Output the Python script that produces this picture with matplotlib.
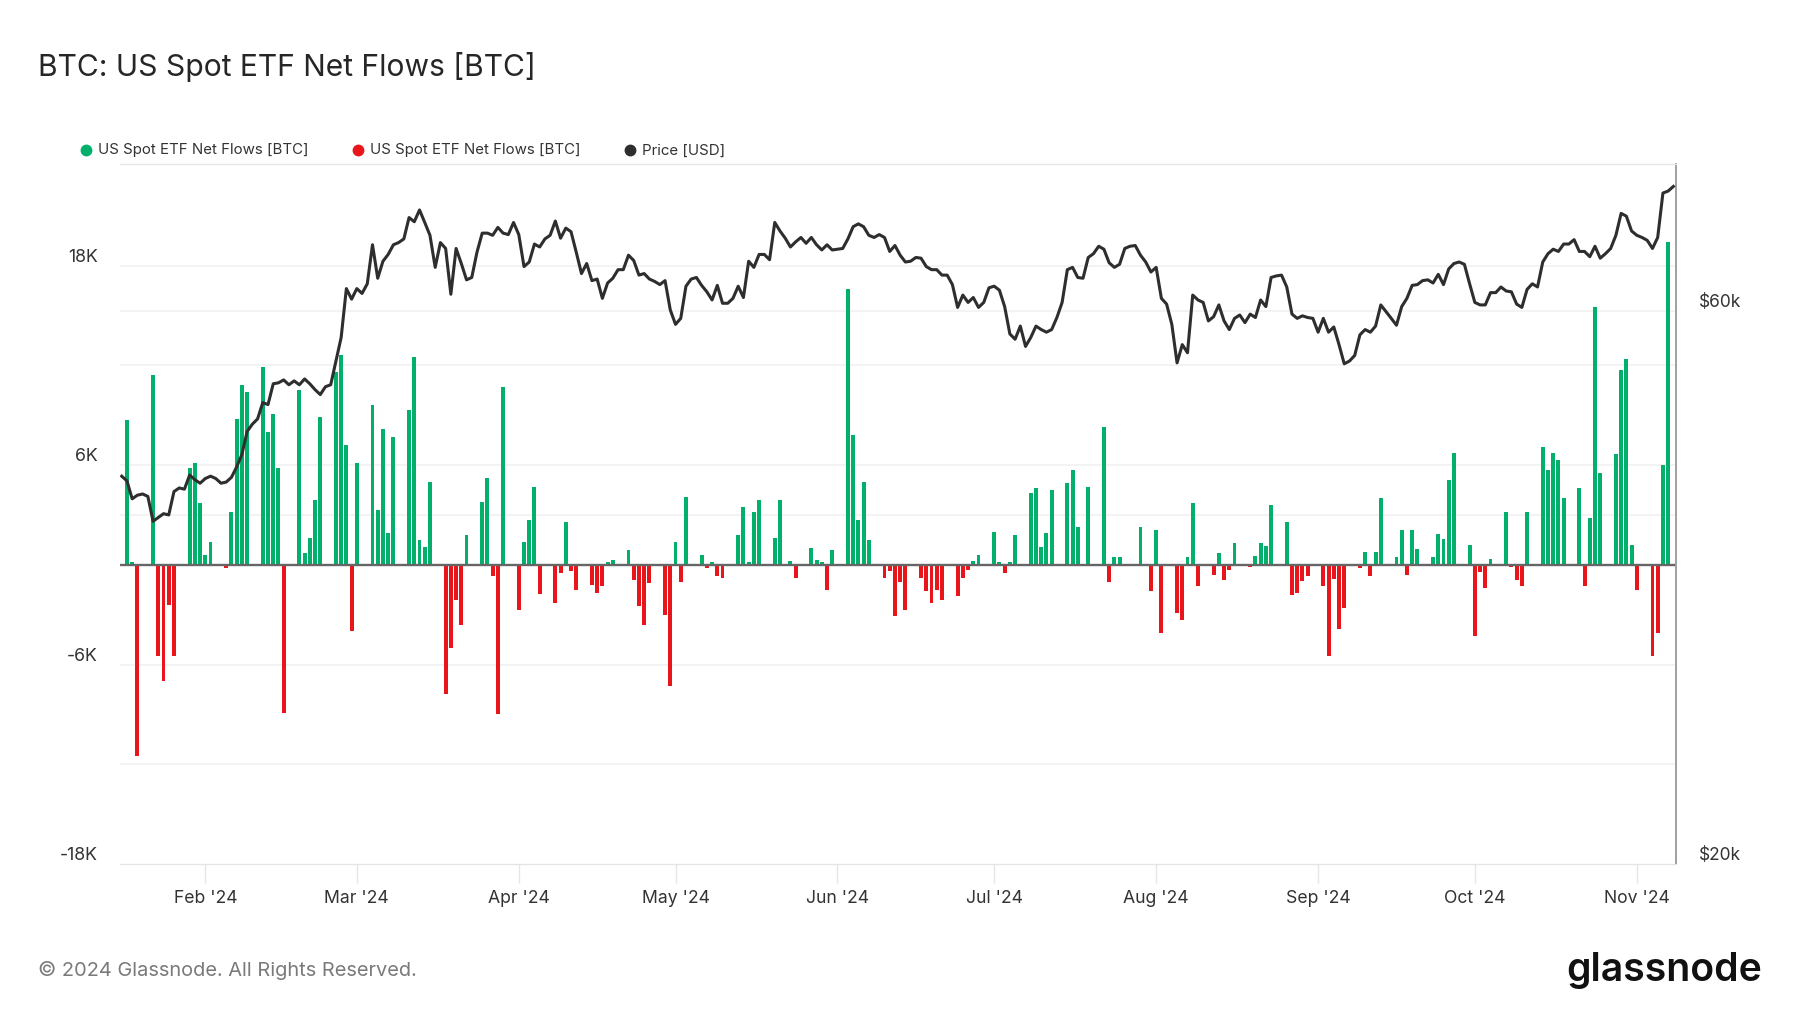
import matplotlib
matplotlib.use('Agg')
import matplotlib.pyplot as plt
import matplotlib.dates as mdates
import matplotlib.transforms as mtransforms
from matplotlib.lines import Line2D
import pandas as pd

plt.rcParams['font.family'] = ['Inter', 'DejaVu Sans']

# ---------------- data ----------------
flow_dates = [
    '2024-01-17', '2024-01-18', '2024-01-19', '2024-01-22', '2024-01-23', '2024-01-24', '2024-01-25', '2024-01-26',
    '2024-01-29', '2024-01-30', '2024-01-31', '2024-02-01', '2024-02-02',
    '2024-02-05', '2024-02-06', '2024-02-07', '2024-02-08', '2024-02-09',
    '2024-02-12', '2024-02-13', '2024-02-14', '2024-02-15', '2024-02-16',
    '2024-02-19', '2024-02-20', '2024-02-21', '2024-02-22', '2024-02-23',
    '2024-02-26', '2024-02-27', '2024-02-28', '2024-02-29', '2024-03-01',
    '2024-03-04', '2024-03-05', '2024-03-06', '2024-03-07', '2024-03-08',
    '2024-03-11', '2024-03-12', '2024-03-13', '2024-03-14', '2024-03-15',
    '2024-03-18', '2024-03-19', '2024-03-20', '2024-03-21', '2024-03-22',
    '2024-03-25', '2024-03-26', '2024-03-27', '2024-03-28', '2024-03-29',
    '2024-04-01', '2024-04-02', '2024-04-03', '2024-04-04', '2024-04-05',
    '2024-04-08', '2024-04-09', '2024-04-10', '2024-04-11', '2024-04-12',
    '2024-04-15', '2024-04-16', '2024-04-17', '2024-04-18', '2024-04-19',
    '2024-04-22', '2024-04-23', '2024-04-24', '2024-04-25', '2024-04-26',
    '2024-04-29', '2024-04-30', '2024-05-01', '2024-05-02', '2024-05-03',
    '2024-05-06', '2024-05-07', '2024-05-08', '2024-05-09', '2024-05-10',
    '2024-05-13', '2024-05-14', '2024-05-15', '2024-05-16', '2024-05-17',
    '2024-05-20', '2024-05-21', '2024-05-23', '2024-05-24',
    '2024-05-27', '2024-05-28', '2024-05-29', '2024-05-30', '2024-05-31',
    '2024-06-03', '2024-06-04', '2024-06-05', '2024-06-06', '2024-06-07',
    '2024-06-10', '2024-06-11', '2024-06-12', '2024-06-13', '2024-06-14',
    '2024-06-17', '2024-06-18', '2024-06-19', '2024-06-20', '2024-06-21',
    '2024-06-24', '2024-06-25', '2024-06-26', '2024-06-27', '2024-06-28',
    '2024-07-01', '2024-07-02', '2024-07-03', '2024-07-04', '2024-07-05',
    '2024-07-08', '2024-07-09', '2024-07-10', '2024-07-11', '2024-07-12',
    '2024-07-15', '2024-07-16', '2024-07-17', '2024-07-19',
    '2024-07-22', '2024-07-23', '2024-07-24', '2024-07-25', '2024-07-26',
    '2024-07-29', '2024-07-31', '2024-08-01', '2024-08-02',
    '2024-08-05', '2024-08-06', '2024-08-07', '2024-08-08', '2024-08-09',
    '2024-08-12', '2024-08-13', '2024-08-14', '2024-08-15', '2024-08-16',
    '2024-08-19', '2024-08-20', '2024-08-21', '2024-08-22', '2024-08-23',
    '2024-08-26', '2024-08-27', '2024-08-28', '2024-08-29', '2024-08-30',
    '2024-09-02', '2024-09-03', '2024-09-04', '2024-09-05', '2024-09-06',
    '2024-09-09', '2024-09-10', '2024-09-11', '2024-09-12', '2024-09-13',
    '2024-09-16', '2024-09-17', '2024-09-18', '2024-09-19', '2024-09-20',
    '2024-09-23', '2024-09-24', '2024-09-25', '2024-09-26', '2024-09-27',
    '2024-09-30', '2024-10-01', '2024-10-02', '2024-10-03', '2024-10-04',
    '2024-10-07', '2024-10-08', '2024-10-09', '2024-10-10', '2024-10-11',
    '2024-10-14', '2024-10-15', '2024-10-16', '2024-10-17', '2024-10-18',
    '2024-10-21', '2024-10-22', '2024-10-23', '2024-10-24', '2024-10-25',
    '2024-10-28', '2024-10-29', '2024-10-30', '2024-10-31', '2024-11-01',
    '2024-11-04', '2024-11-05', '2024-11-06', '2024-11-07',
]

flow_values = [
    8700, 150, -11500, 11400, -5500, -7000, -2400, -5500,
    5800, 6100, 3700, 600, 1400,
    -200, 3200, 8750, 10800, 10400,
    11900, 8000, 9100, 5800, -8900,
    10500, 700, 1600, 3900, 8900,
    11600, 12600, 7200, -4000, 6100,
    9600, 3300, 8200, 1900, 7700,
    9300, 12500, 1500, 1100, 5000,
    -7800, -5000, -2100, -3600, 1800,
    3800, 5200, -700, -9000, 10700,
    -2700, 1400, 2700, 4700, -1750,
    -2300, -500, 2600, -400, -1500,
    -1200, -1700, -1300, 200, 300,
    900, -900, -2500, -3600, -1100,
    -3000, -7300, 1400, -1050, 4100,
    600, -200, 200, -700, -800,
    1800, 3500, 150, 3200, 3900,
    1600, 3900, 260, -800,
    1000, 300, 150, -1500, 900,
    16600, 7800, 2700, 5000, 1500,
    -800, -400, -3100, -1050, -2700,
    -800, -1550, -2300, -1500, -2100,
    -1900, -800, -300, 260, 600,
    2000, 150, -500, 150, 1800,
    4300, 4600, 1100, 1900, 4500,
    4900, 5700, 2300, 4700,
    8300, -1050, 500, 500, 50,
    2300, -1600, 2100, -4100,
    -2900, -3300, 450, 3700, -1300,
    -600, 700, -900, -300, 1300,
    -100, 550, 1300, 1150, 3600,
    2600, -1800, -1700, -950, -650,
    -1300, -5500, -850, -3850, -2600,
    -200, 800, -650, 800, 4000,
    450, 2100, -600, 2100, 950,
    450, 1850, 1550, 5100, 6750,
    1200, -4300, -450, -1400, 350,
    3200, -100, -900, -1300, 3200,
    7100, 5700, 6750, 6300, 4000,
    4600, -1300, 2800, 15500, 5500,
    6700, 11700, 12400, 1200, -1500,
    -5500, -4100, 6000, 19400,
]

# daily BTC price (USD, thousands) from 2024-01-16 to 2024-11-08
price_start = '2024-01-16'
price_k = [
    # Jan 16-31
    43.2, 42.8, 41.3, 41.6, 41.7, 41.5, 39.5, 39.8, 40.1, 40.0, 41.9, 42.2, 42.1, 43.3, 42.9, 42.6,
    # Feb
    43.0, 43.2, 43.0, 42.6, 42.7, 43.1, 44.0, 45.1, 47.2, 47.9, 48.4, 50.0, 49.8, 51.9, 52.0,
    52.3, 51.8, 52.2, 51.8, 52.4, 51.9, 51.3, 50.8, 51.6, 51.8, 54.3, 56.9, 62.7, 61.4,
    # Mar
    62.7, 62.1, 63.3, 68.4, 64.0, 66.2, 67.1, 68.4, 68.7, 69.2, 72.2, 71.6, 73.3, 71.5, 69.7,
    65.4, 68.7, 67.9, 62.0, 67.9, 65.9, 63.8, 64.1, 67.4, 70.0, 70.0, 69.7, 70.8, 70.0, 69.8, 71.5,
    # Apr
    69.8, 65.5, 66.1, 68.5, 68.1, 69.2, 69.7, 71.7, 69.3, 70.7, 70.2, 67.4, 64.6, 65.9, 63.7,
    63.9, 61.5, 63.4, 64.0, 65.1, 65.1, 67.0, 66.3, 64.4, 64.6, 63.9, 63.6, 63.2, 63.7, 60.1,
    # May
    58.4, 59.1, 63.0, 63.9, 64.1, 63.1, 62.3, 61.3, 63.1, 60.9, 60.9, 61.5, 63.0, 61.6, 66.2,
    65.4, 67.1, 67.1, 66.4, 71.5, 70.3, 69.3, 68.1, 68.8, 69.4, 68.6, 69.4, 68.4, 67.7, 68.4, 67.7,
    # Jun
    67.8, 67.9, 69.2, 70.9, 71.3, 70.9, 69.7, 69.4, 69.8, 69.4, 67.5, 68.3, 67.0, 66.1, 66.2,
    66.7, 66.6, 65.5, 65.1, 65.1, 64.4, 64.4, 63.2, 60.4, 61.9, 61.0, 61.6, 60.4, 61.0, 62.8,
    # Jul
    63.0, 62.5, 60.5, 57.3, 56.7, 58.2, 55.9, 56.9, 58.2, 57.8, 57.5, 57.8, 59.2, 61.0, 65.1,
    65.4, 64.1, 64.0, 66.7, 67.2, 68.2, 67.8, 66.0, 65.4, 65.8, 67.9, 68.2, 68.3, 67.0, 66.1, 64.8,
    # Aug
    65.4, 61.5, 60.8, 58.4, 54.1, 56.1, 55.2, 61.9, 61.3, 61.0, 58.8, 59.3, 60.7, 58.8, 57.8,
    59.1, 59.5, 58.6, 59.6, 59.2, 61.3, 60.5, 64.1, 64.3, 64.4, 62.9, 59.6, 59.1, 59.4, 59.2, 59.1,
    # Sep
    57.5, 59.1, 57.5, 58.1, 56.1, 54.0, 54.3, 54.9, 57.2, 57.8, 57.5, 58.2, 60.7, 59.9, 59.1,
    58.3, 60.5, 61.5, 63.1, 63.2, 63.7, 63.8, 63.4, 64.5, 63.2, 65.2, 65.9, 66.1, 65.8, 63.3,
    # Oct
    61.0, 60.7, 60.7, 62.2, 62.2, 62.9, 62.4, 62.3, 60.8, 60.4, 62.6, 63.3, 62.9, 66.1, 67.2,
    67.8, 67.5, 68.5, 68.5, 69.1, 67.5, 67.5, 66.8, 68.2, 66.6, 67.2, 67.9, 69.7, 72.8, 72.4, 70.3,
    # Nov 1-8
    69.7, 69.4, 69.0, 67.9, 69.4, 75.8, 76.1, 76.8,
]

flow_ticks = [-18000, -12000, -6000, 6000, 12000, 18000]
flow_ticklabels = ['-18K', '', '-6K', '6K', '', '18K']
price_ticks = [20000, 40000, 60000]
price_ticklabels = ['$20k', '', '$60k']

title = 'BTC: US Spot ETF Net Flows [BTC]'
legend_labels = ['US Spot ETF Net Flows [BTC]', 'US Spot ETF Net Flows [BTC]', 'Price [USD]']

GREEN = '#02b06c'
RED = '#e8161b'
LINE = '#2e2e2e'
TEXT = '#333333'
GRID = '#f0f0f0'

# ---------------- figure ----------------
fig = plt.figure(figsize=(18, 10.13), dpi=100)
ax = fig.add_axes([0.0669, 0.1471, 0.8642, 0.691])
ax2 = ax.twinx()

fdates = pd.to_datetime(flow_dates)
colors = [GREEN if v >= 0 else RED for v in flow_values]
ax.bar(fdates, flow_values, width=0.75, color=colors, zorder=3, linewidth=0)
ax.axhline(0, color='#666666', lw=1.7, zorder=4)

pdates = pd.date_range(price_start, periods=len(price_k), freq='D')
prices = [p * 1000 for p in price_k]
ax2.plot(pdates, prices, color=LINE, lw=2.2, zorder=5, solid_joinstyle='round')

# axes limits
ax.set_xlim(pd.Timestamp('2024-01-15 18:00'), pd.Timestamp('2024-11-08 12:00'))
ax.set_ylim(-18000, 24120)
ax2.set_yscale('log')
ax2.set_ylim(20000, 80300)

# grid lines (left scale)
ax.set_yticks(flow_ticks)
ax.set_yticklabels(flow_ticklabels)
for t in flow_ticks[1:]:
    ax.axhline(t, color=GRID, lw=1.1, zorder=0)
# grid lines (price scale) drawn on the back axes
blend = mtransforms.blended_transform_factory(ax.transAxes, ax2.transData)
for t in price_ticks[1:]:
    ax.plot([0, 1], [t, t], transform=blend, color=GRID, lw=1.1, zorder=0)

ax2.yaxis.set_major_locator(matplotlib.ticker.FixedLocator(price_ticks))
ax2.yaxis.set_minor_locator(matplotlib.ticker.NullLocator())
ax2.set_yticklabels(price_ticklabels)

for lab in ax.get_yticklabels():
    lab.set_verticalalignment('bottom')
for lab in ax2.get_yticklabels():
    lab.set_verticalalignment('bottom')

ax.tick_params(axis='y', length=0, pad=16.5, labelsize=12.8, labelcolor=TEXT)
ax2.tick_params(axis='y', length=0, pad=16.5, labelsize=12.5, labelcolor=TEXT)

ax.xaxis.set_major_locator(mdates.MonthLocator())
ax.xaxis.set_major_formatter(mdates.DateFormatter("%b '%y"))
ax.tick_params(axis='x', length=13.5, width=1, color='#e6e6e6', pad=5,
               labelsize=12.7, labelcolor=TEXT)

for a in (ax, ax2):
    a.spines['left'].set_visible(False)
    a.spines['top'].set_color('#e6e6e6')
    a.spines['bottom'].set_color('#e3e3e3')
    a.spines['right'].set_color('#a0a0a0')
    a.spines['right'].set_linewidth(1.2)
    a.patch.set_visible(False)

# ---------------- texts ----------------
fig.text(0.0211, 0.934, title, fontsize=21.6, color='#262626', va='center', ha='left')

legend_x_dot = [0.0478, 0.1989, 0.3500]
legend_x_txt = [0.0542, 0.2054, 0.3565]
legend_cols = [GREEN, RED, LINE]
for xd, xt, c, lab in zip(legend_x_dot, legend_x_txt, legend_cols, legend_labels):
    fig.add_artist(Line2D([xd], [0.8515], marker='o', markersize=7.5, color=c,
                          linestyle='none', transform=fig.transFigure))
    fig.text(xt, 0.8515, lab, fontsize=10.8, color=TEXT, va='center', ha='left')

fig.text(0.0211, 0.0424, '\u00a9 2024 Glassnode. All Rights Reserved.', fontsize=14.4,
         color='#7a7a7a', va='center', ha='left')
fig.text(0.979, 0.042, 'glassnode', fontsize=28.2, color='#111111', fontweight='semibold',
         va='center', ha='right')

fig.savefig('out.png', dpi=100)
